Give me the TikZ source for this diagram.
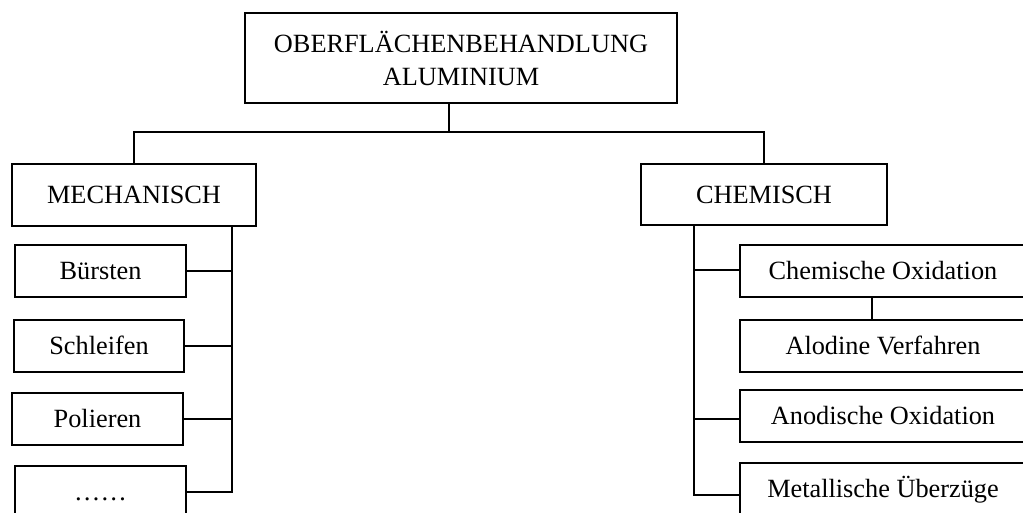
\documentclass[tikz,border=0pt]{standalone}
\usepackage{fontspec}
\setmainfont{Liberation Serif}

\begin{document}
\begin{tikzpicture}[x=1pt, y=-1pt, line width=1.9pt, font=\fontsize{26.3}{33}\selectfont]
	\tikzset{box/.style={draw, rectangle, inner sep=0pt, text height=17.4pt, text depth=0pt},
		headbox/.style={draw, rectangle, inner sep=0pt, align=center}}
	\useasboundingbox (0,0) rectangle (1023,513);
	\clip (0,0) rectangle (1023,513);
	% root
	\node[headbox, minimum width=432pt, minimum height=90pt] (top) at (461,58) {OBERFLÄCHENBEHANDLUNG\\ALUMINIUM};
	% two branches
	\node[box, minimum width=244pt, minimum height=62pt] (mech) at (134,195) {MECHANISCH};
	\node[box, minimum width=246pt, minimum height=61pt] (chem) at (764,194.5) {CHEMISCH};
	% mechanical methods
	\node[box, minimum width=171pt, minimum height=52pt] (buerst) at (100.5,271) {Bürsten};
	\node[box, minimum width=170pt, minimum height=52pt] (schleif) at (99,346) {Schleifen};
	\node[box, minimum width=171pt, minimum height=52pt] (polier) at (97.5,419) {Polieren};
	\node[box, minimum width=171pt, minimum height=52pt] (more) at (100.5,492) {……};
	% chemical methods
	\node[box, minimum width=286pt, minimum height=52pt] (chemox) at (883,271) {Chemische Oxidation};
	\node[box, minimum width=286pt, minimum height=52pt] (alodine) at (883,346) {Alodine Verfahren};
	\node[box, minimum width=286pt, minimum height=52pt] (anod) at (883,416) {Anodische Oxidation};
	\node[box, minimum width=286pt, minimum height=52pt] (metall) at (883,489) {Metallische Überzüge};
	% connectors
	\coordinate (split) at (449,132);
	\coordinate (mtrunk) at (232,226);
	\coordinate (ctrunk) at (694,225);
	\coordinate (oxlink) at (872,297);
	\draw (top.south -| split) -- (split);
	\draw (mech.north) -- (mech.north |- split) -- (chem.north |- split) -- (chem.north);
	\draw (mtrunk) |- (more.east);
	\draw (buerst.east) -- (buerst.east -| mtrunk);
	\draw (schleif.east) -- (schleif.east -| mtrunk);
	\draw (polier.east) -- (polier.east -| mtrunk);
	\draw (ctrunk) |- ([yshift=-6pt]metall.west);
	\draw ([yshift=1pt]chemox.west) -- ([yshift=1pt]chemox.west -| ctrunk);
	\draw ([yshift=-3pt]anod.west) -- ([yshift=-3pt]anod.west -| ctrunk);
	\draw (oxlink) -- (oxlink |- alodine.north);
\end{tikzpicture}
\end{document}
